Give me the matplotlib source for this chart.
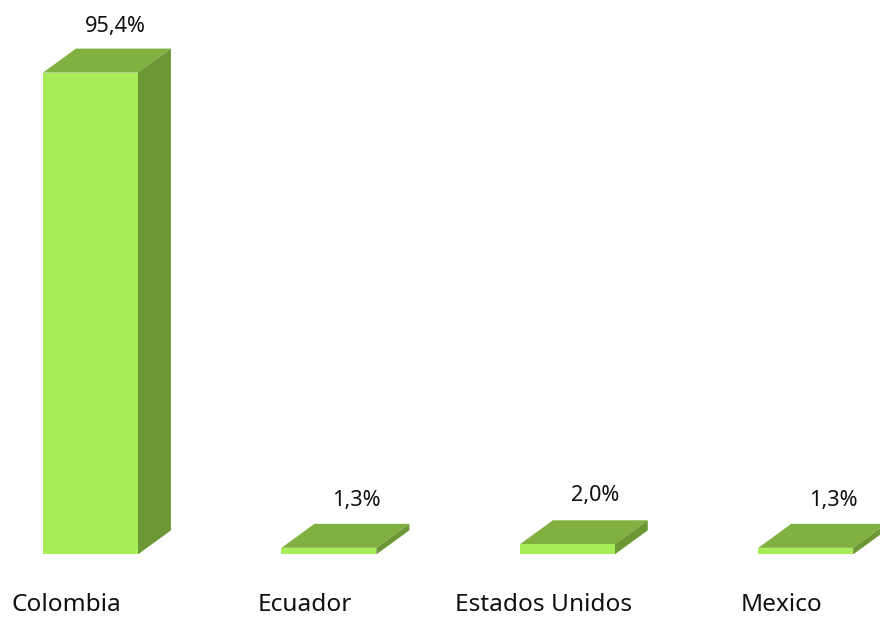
import numpy as np
import matplotlib
matplotlib.use('Agg')
import matplotlib.pyplot as plt
from matplotlib.patches import Polygon

categories = ['Colombia', 'Ecuador', 'Estados Unidos', 'Mexico']
values = [95.4, 1.3, 2.0, 1.3]
value_labels = ['95,4%', '1,3%', '2,0%', '1,3%']

plt.rcParams['font.family'] = ['Noto Sans', 'DejaVu Sans']

fig = plt.figure(figsize=(8.8, 6.17), dpi=100)
ax = fig.add_axes([0, 0, 1, 1])
ax.set_xlim(-0.3796, 3.3116)
ax.set_ylim(-12.4, 109.775)
ax.axis('off')

half = 0.199
dx = 33 / 238.4
dy = 24 / 5.05

x = np.arange(len(categories))
ax.bar(x, values, width=half * 2, color='#a6ed58', linewidth=0, zorder=3)

for i, v in zip(x, values):
    top = [(i - half, v), (i + half, v), (i + half + dx, v + dy), (i - half + dx, v + dy)]
    side = [(i + half, 0), (i + half + dx, dy), (i + half + dx, v + dy), (i + half, v)]
    ax.add_patch(Polygon(top, closed=True, facecolor='#80b040', linewidth=0, zorder=2))
    ax.add_patch(Polygon(side, closed=True, facecolor='#6b9835', linewidth=0, zorder=2))

# label offsets differ a little from bar to bar in the original
offs = [(0, 33), (2, 34), (2, 35), (2, 34)]
for i, v, lab, off in zip(x, values, value_labels, offs):
    ax.annotate(lab, (i + 0.103, v), xytext=off, textcoords='offset points',
                ha='center', va='center', fontsize=15.6, color='#111111')

for i, name in zip(x, categories):
    ax.text(i - 0.1, -10.1, name, ha='center', va='center', fontsize=17.6, color='#111111')

fig.savefig('out.png', dpi=100)
